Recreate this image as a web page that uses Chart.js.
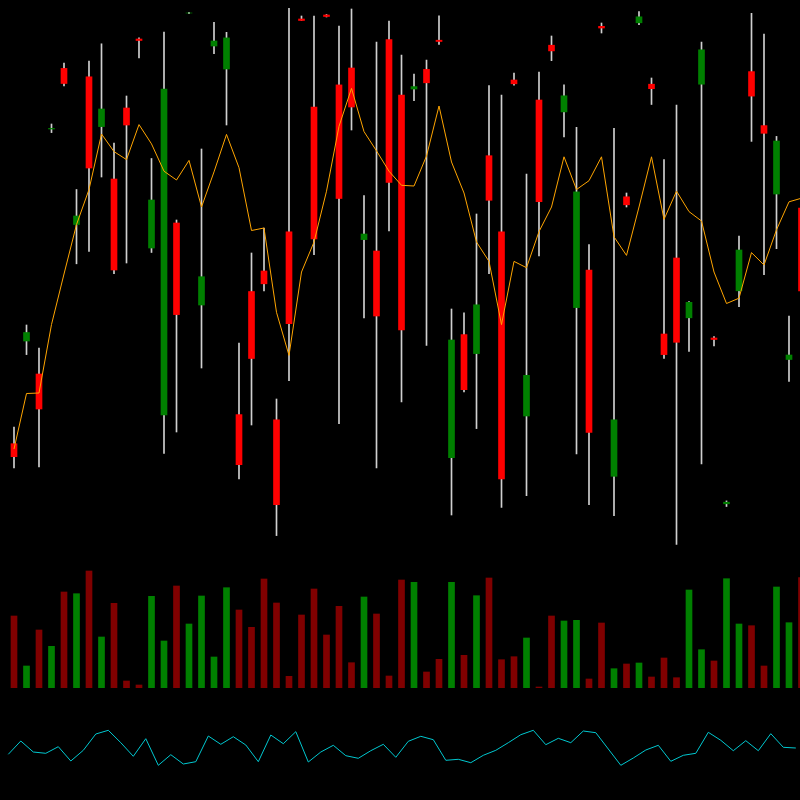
<!DOCTYPE html>
<html>
<head>
<meta charset="utf-8">
<script src="https://cdn.jsdelivr.net/npm/chart.js@4/dist/chart.umd.min.js"></script>
<style>
html,body{margin:0;padding:0;background:#000;width:800px;height:800px;overflow:hidden;}
canvas{position:absolute;left:0;display:block;}
#price{top:0;}
#vol{top:560px;}
#osc{top:700px;}
</style>
</head>
<body>
<canvas id="price" width="800" height="560"></canvas>
<canvas id="vol" width="800" height="128"></canvas>
<canvas id="osc" width="800" height="100"></canvas>
<script>
// ---- data ----
const openP  = [15.63,25.90,22.60,47.10,53.16,37.55,52.32,47.34,42.10,49.20,56.10,35.20,18.50,37.70,58.70,29.50,
                55.40,53.10,18.54,30.85,32.90,18.02,36.82,58.10,49.30,58.50,51.51,53.20,36.04,34.90,56.04,50.50,
                51.10,53.06,55.98,14.23,26.54,24.64,44.43,36.82,52.00,18.40,50.00,55.48,48.81,29.24,33.00,57.37,
                12.37,40.32,57.72,51.58,26.60,34.20,28.22,51.58,26.20,9.62,30.92,52.84,47.44,40.60,24.05,39.20];
const highP  = [17.30,27.50,25.20,47.60,53.70,41.05,53.90,55.62,45.70,50.40,56.21,44.15,56.80,38.00,58.76,45.10,
                57.76,56.77,25.70,34.70,37.20,20.10,59.16,58.40,58.40,58.55,57.40,59.10,40.43,55.80,57.90,54.50,
                52.60,54.00,58.42,29.10,28.71,38.60,51.44,50.50,52.70,42.60,52.80,56.40,51.51,47.27,35.55,57.70,
                47.16,40.70,58.84,52.20,44.04,49.50,29.84,55.80,26.33,9.91,36.40,58.67,56.60,46.36,28.40,39.50];
const lowP   = [13.20,24.54,13.30,46.74,51.40,33.62,34.85,42.30,32.64,33.70,54.21,34.75,14.65,16.80,58.64,23.20,
                54.63,47.50,12.10,17.50,30.92,6.44,21.94,57.95,34.54,58.30,17.63,47.00,28.22,13.20,36.90,19.80,
                49.93,25.45,55.55,8.50,20.80,17.14,32.64,9.25,51.48,10.44,34.40,53.93,46.32,14.61,9.53,56.70,
                8.44,39.30,57.54,49.55,24.15,5.56,24.86,13.60,25.42,9.35,29.34,45.86,32.54,35.13,21.87,30.50];
const closeP = [14.33,26.75,19.10,47.16,51.65,38.40,43.20,49.10,33.00,47.50,55.95,40.00,51.10,28.54,58.70,32.33,
                55.90,56.21,13.53,24.15,31.62,9.53,27.63,57.95,36.11,58.35,40.15,49.30,36.60,28.40,41.76,27.00,
                51.34,51.72,55.85,26.00,21.03,29.52,39.97,12.10,51.62,22.47,39.83,54.91,50.42,40.81,16.75,57.20,
                18.02,39.52,58.32,51.13,24.54,25.77,29.77,55.02,26.05,9.78,35.00,50.39,46.67,45.90,24.50,30.92];
const avgLine = [15.10,20.65,20.70,27.55,32.60,37.54,41.05,46.60,44.84,44.04,47.54,45.61,42.88,42.00,43.96,39.30,
                 42.81,46.56,43.23,36.95,37.20,28.77,24.46,32.80,35.80,40.88,47.37,51.16,46.84,44.91,42.88,41.47,
                 41.40,44.40,49.40,43.80,40.70,35.80,33.86,27.54,33.86,33.23,36.84,39.30,44.32,41.05,41.93,44.32,
                 36.32,34.46,39.30,44.32,38.07,40.88,38.84,37.90,32.80,29.65,30.18,34.74,33.50,37.02,39.82,40.18];
const volume = [720,220,580,417,960,943,1170,510,847,70,30,917,470,1020,640,920,
                310,1003,780,607,1090,850,117,730,990,530,817,253,910,740,120,1080,
                1057,160,287,1057,327,923,1100,283,313,500,10,720,670,677,90,650,
                193,240,250,110,300,103,980,383,270,1093,640,623,220,1010,653,1103];
const oscill = [45.7,59.0,48.0,46.7,53.3,39.0,49.7,66.0,69.7,57.3,43.7,61.3,34.7,45.3,36.0,38.3,
                64.0,55.7,63.3,55.0,38.3,65.0,56.3,68.3,38.0,48.0,54.7,44.3,41.7,49.3,55.7,42.7,
                58.7,63.7,60.3,39.7,40.7,37.3,44.7,49.7,57.3,65.3,69.7,55.3,61.7,57.3,69.0,67.3,
                51.0,34.7,42.0,50.0,54.7,38.7,44.7,46.7,67.7,59.7,49.3,59.3,49.3,66.3,52.7,52.0];

// ---- styles ----
const UP = '#008000', DOWN = '#ff0000', VUP = '#008000', VDOWN = '#800000';
const WICK = '#d0d0d0', AVG = '#ffa500', OSC = '#00c8d0';

const idx = openP.map((_, i) => i);
const isUp = idx.map(i => closeP[i] >= openP[i]);

const baseOpts = (xmin, xmax, ymin, ymax) => ({
  responsive: false,
  devicePixelRatio: 1,
  animation: false,
  events: [],
  layout: { padding: 0 },
  plugins: { legend: { display: false }, tooltip: { enabled: false } },
  datasets: { bar: { grouped: false } },
  scales: {
    x: { type: 'linear', min: xmin, max: xmax, offset: false, display: false },
    y: { min: ymin, max: ymax, display: false }
  }
});

new Chart(document.getElementById('price'), {
  type: 'bar',
  data: {
    datasets: [
      { type: 'line', data: idx.map(i => ({ x: i, y: avgLine[i] })), borderColor: AVG, borderWidth: 1,
        pointRadius: 0, tension: 0, fill: false },
      { type: 'bar', data: idx.map(i => ({ x: i, y: [openP[i], closeP[i]] })),
        backgroundColor: idx.map(i => isUp[i] ? UP : DOWN), borderWidth: 0, borderSkipped: false,
        barThickness: 6, grouped: false },
      { type: 'bar', data: idx.map(i => ({ x: i, y: [lowP[i], highP[i]] })),
        backgroundColor: WICK, borderWidth: 0, borderSkipped: false, barThickness: 1, grouped: false }
    ]
  },
  options: baseOpts(-1.12, 62.88, 4, 60)
});

new Chart(document.getElementById('vol'), {
  type: 'bar',
  data: {
    datasets: [
      { data: idx.map(i => ({ x: i, y: volume[i] })), backgroundColor: idx.map(i => isUp[i] ? VUP : VDOWN),
        borderWidth: 0, barThickness: 6, grouped: false }
    ]
  },
  options: baseOpts(-1.12, 62.88, 0, 1280)
});

new Chart(document.getElementById('osc'), {
  type: 'line',
  data: {
    datasets: [
      { data: idx.map(i => ({ x: i, y: oscill[i] })), borderColor: OSC, borderWidth: 1,
        pointRadius: 0, tension: 0, fill: false }
    ]
  },
  options: baseOpts(-0.664, 63.336, 0, 100)
});
</script>
</body>
</html>
